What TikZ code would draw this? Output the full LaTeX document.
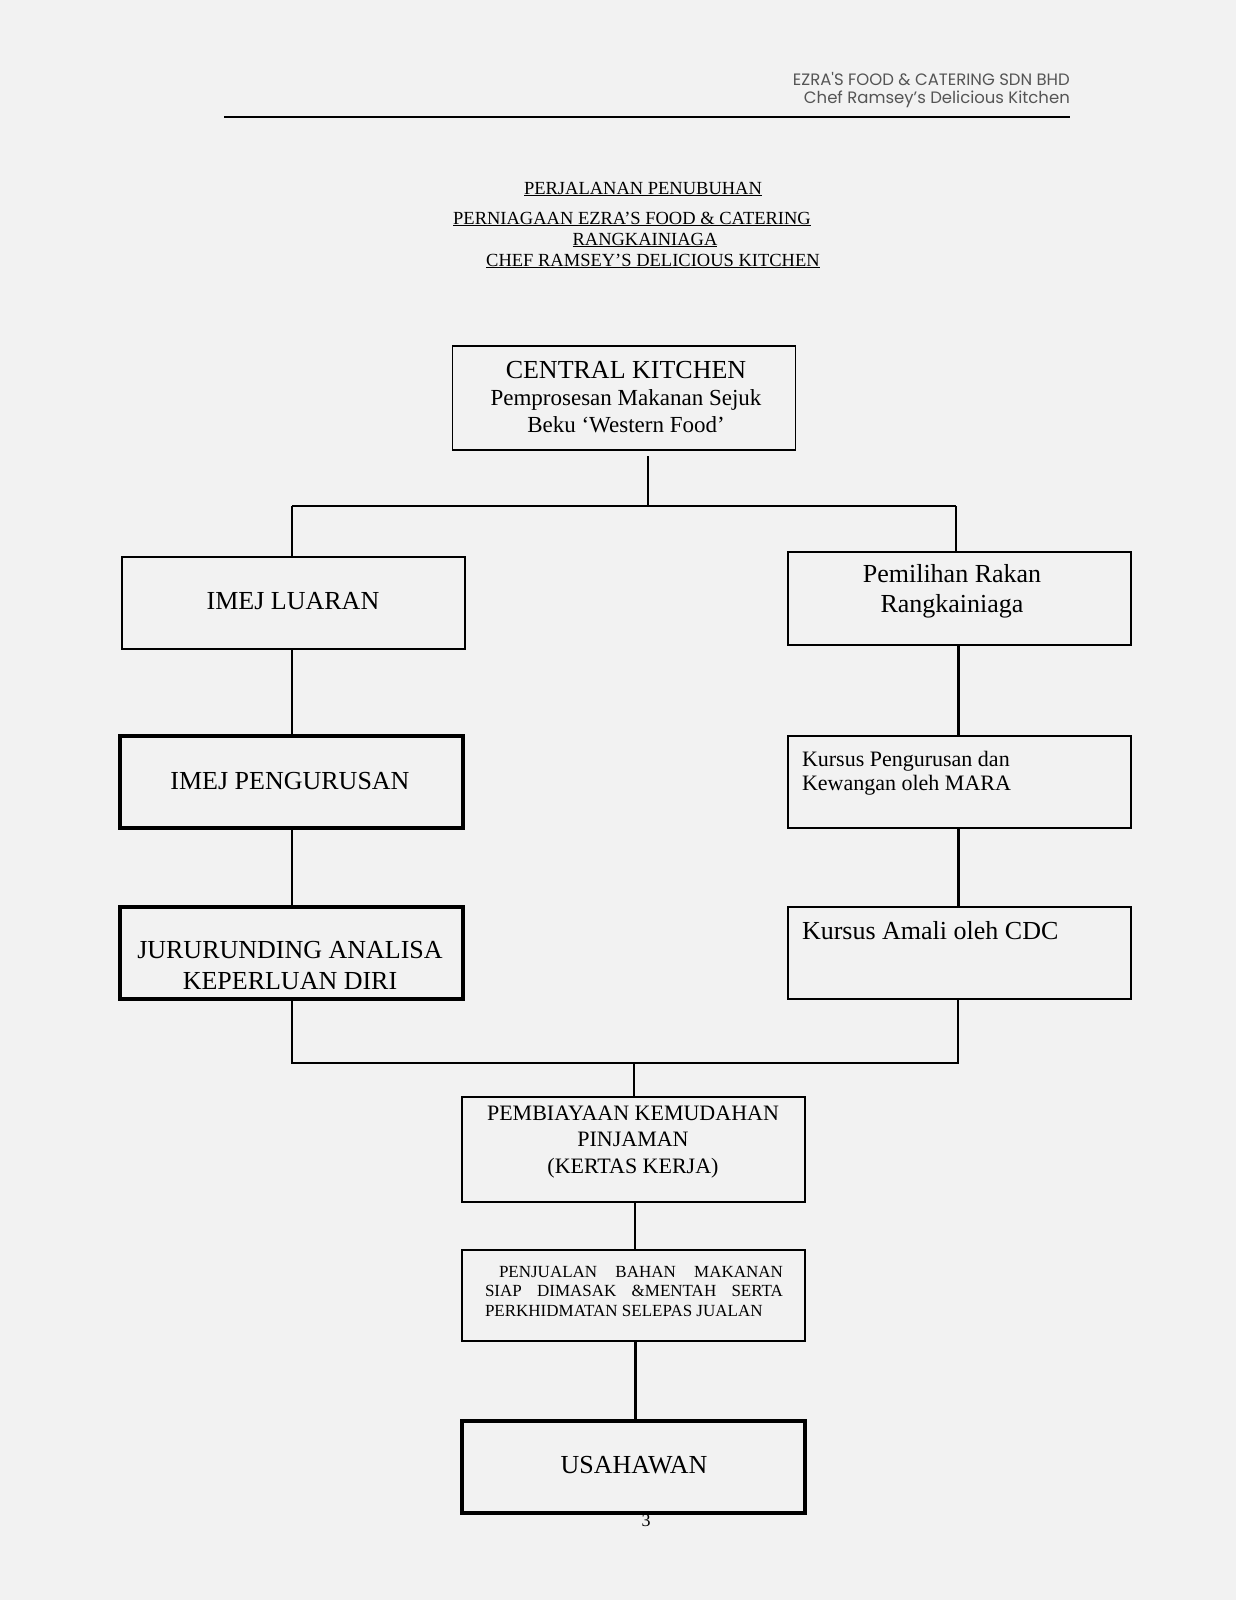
\documentclass[tikz,border=0pt]{standalone}
\usepackage{fontspec}
\setmainfont{Liberation Serif}
\newfontfamily\hdrfont{Poppins}
\definecolor{bg}{RGB}{242,242,242}
\definecolor{hdr}{RGB}{85,85,85}
\begin{document}
\begin{tikzpicture}[x=1pt,y=-1pt,
  box/.style={draw=black, line width=1.8pt, rectangle, inner sep=0pt, outer sep=0pt, minimum width=343pt},
  thickbox/.style={box, line width=3.2pt},
  txt/.style={inner sep=0pt, outer sep=0pt, text=black},
  conn/.style={draw=black, line width=1.8pt},
  thickconn/.style={draw=black, line width=3pt},
  hdrtxt/.style={anchor=east, inner sep=0pt, text=hdr, font=\hdrfont\fontsize{16.5}{18}\selectfont},
  ttl/.style={inner sep=0pt, font=\fontsize{18.5}{20}\selectfont}
]
\fill[bg] (0,0) rectangle (1236,1600);
\useasboundingbox (0,0) rectangle (1236,1600);

% header
\node[hdrtxt] (h1) at (1070,79) {EZRA'S FOOD \& CATERING SDN BHD};
\node[hdrtxt] (h2) at (1070,99) {Chef Ramsey’s Delicious Kitchen};
\coordinate (rl) at (224,117);
\coordinate (rr) at (1070,117);
\draw[line width=1.5pt] (rl) -- (rr);

% titles
\node[ttl] (t1) at (643,189) {\underline{PERJALANAN PENUBUHAN}};
\node[ttl] (t2) at (632,219) {\underline{PERNIAGAAN EZRA’S FOOD \& CATERING}};
\node[ttl] (t3) at (645,240) {\underline{RANGKAINIAGA}};
\node[ttl] (t4) at (653,261) {\underline{CHEF RAMSEY’S DELICIOUS KITCHEN}};

% boxes
\node[box, minimum height=104pt] (ck) at (624,398) {};
\node[txt, align=center, font=\fontsize{23}{27}\selectfont] (ckt) at (626,397)
  {{\fontsize{26}{27}\selectfont CENTRAL KITCHEN}\\Pemprosesan Makanan Sejuk\\Beku ‘Western Food’};

\node[box, minimum height=92pt] (il) at (293.5,603) {};
\node[txt, font=\fontsize{26}{30}\selectfont] (ilt) at (293,601) {IMEJ LUARAN};

\node[box, minimum height=93pt] (pr) at (959.5,598.5) {};
\node[txt, align=center, font=\fontsize{26}{30}\selectfont] (prt) at (952,591) {Pemilihan Rakan\\Rangkainiaga};

\node[thickbox, minimum height=92pt] (ip) at (291.5,782) {};
\node[txt, font=\fontsize{26}{30}\selectfont] (ipt) at (290,781) {IMEJ PENGURUSAN};

\node[thickbox, minimum height=92pt] (jur) at (291.5,953) {};
\node[txt, align=center, font=\fontsize{26}{31}\selectfont] (jurt) at (290,966) {JURURUNDING ANALISA\\KEPERLUAN DIRI};

\node[box, minimum height=92pt] (kp) at (959.5,782) {};
\node[txt, anchor=north west, align=left, font=\fontsize{22}{24}\selectfont] (kpt) at (802,751) {Kursus Pengurusan dan\\Kewangan oleh MARA};

\node[box, line width=2.4pt, minimum height=92pt] (ka) at (959.5,953) {};
\node[txt, anchor=west, font=\fontsize{26}{30}\selectfont] (kat) at (802,931) {Kursus Amali oleh CDC};

\node[box, minimum height=105pt] (pb) at (633.5,1149.5) {};
\node[txt, align=center, font=\fontsize{22}{26.5}\selectfont] (pbt) at (633,1142) {PEMBIAYAAN KEMUDAHAN\\PINJAMAN\\(KERTAS KERJA)};

\node[box, minimum height=91pt] (pj) at (633.5,1295.5) {};
\node[txt, align=left, font=\fontsize{17}{19.5}\selectfont] (pjt) at (634,1291)
  {\hspace*{14pt}\makebox[284pt][s]{PENJUALAN BAHAN MAKANAN}\\
   \makebox[298pt][s]{SIAP DIMASAK \&MENTAH SERTA}\\
   \makebox[298pt][l]{PERKHIDMATAN SELEPAS JUALAN}};

\node[thickbox, minimum height=92pt] (us) at (633.5,1467) {};
\node[txt, font=\fontsize{26}{30}\selectfont] (ust) at (634,1465) {USAHAWAN};

\node[txt, font=\fontsize{18}{20}\selectfont] (pg) at (646,1521) {3};

% connectors
\coordinate (jt) at (648,506);
\coordinate (jl) at (292,506);
\coordinate (jrr) at (956,506);
\coordinate (ckb) at (648,456);
\draw[conn] (ckb) -- (jt);
\draw[conn] (jl) -- (jrr);
\draw[conn] (jl) -- (jl |- il.north);
\draw[conn] (jrr) -- (jrr |- pr.north);
\draw[conn] (il.south -| jl) -- (ip.north -| jl);
\draw[conn] (ip.south -| jl) -- (jur.north -| jl);

\coordinate (rc) at (958,700);
\draw[thickconn] (pr.south -| rc) -- (kp.north -| rc);
\draw[thickconn] (kp.south -| rc) -- (ka.north -| rc);

\coordinate (bl) at (292,1063);
\coordinate (br) at (958,1063);
\coordinate (bm) at (634,1063);
\draw[conn] (jur.south -| bl) -- (bl) -- (br) -- (ka.south -| br);
\draw[conn] (bm) -- (pb.north -| bm);

\coordinate (cx) at (635,1300);
\draw[conn] (pb.south -| cx) -- (pj.north -| cx);
\draw[thickconn] (pj.south -| cx) -- (us.north -| cx);
\end{tikzpicture}
\end{document}
